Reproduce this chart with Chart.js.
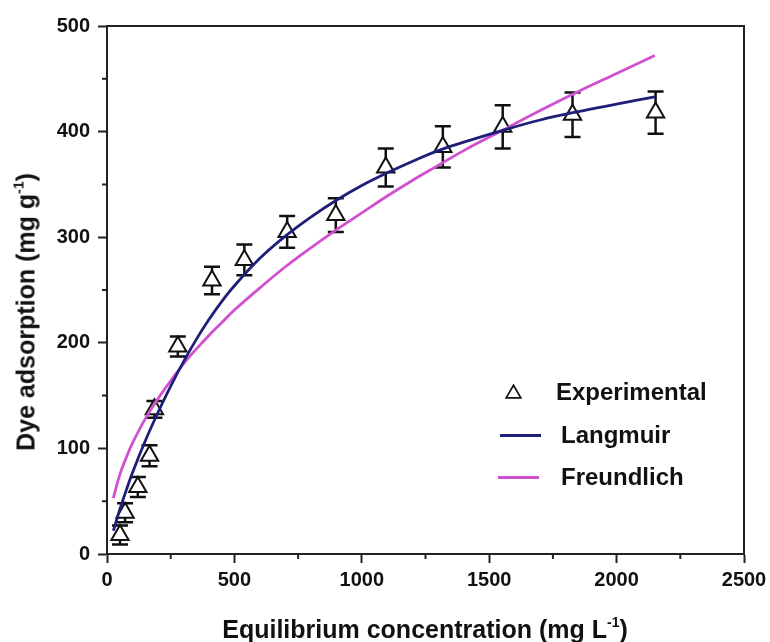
<!DOCTYPE html>
<html>
<head>
<meta charset="utf-8">
<script src="https://cdn.jsdelivr.net/npm/chart.js@4.4.1/dist/chart.umd.min.js"></script>
<style>
  html, body { margin: 0; padding: 0; background: #fff; }
  #wrap { position: relative; width: 770px; height: 642px; overflow: hidden; font-family: 'Liberation Sans', Arial, sans-serif; font-weight: bold; color: #111; }
  canvas { position: absolute; left: 0; top: 0; }
  .t { position: absolute; white-space: nowrap; line-height: 25px; font-size: 25px; }
  .t .sp { font-size: 14px; position: relative; top: -11px; }
  .lg { position: absolute; white-space: nowrap; font-size: 24px; line-height: 24px; }
  .ln { position: absolute; height: 3px; }
</style>
</head>
<body>
<div id="wrap">
  <canvas id="c" width="770" height="642"></canvas>
  <div class="t" id="xt" style="left:425px; top:617px; transform:translateX(-50%);">Equilibrium concentration (mg L<span class="sp">-1</span>)</div>
  <div class="t" id="yt" style="left:28px; top:312px; transform:translate(-50%,-50%) rotate(-90deg);">Dye adsorption (mg g<span class="sp">-1</span>)</div>
  <svg style="position:absolute; left:505px; top:384px;" width="17" height="15"><polygon points="8.5,1.2 15.8,13.8 1.2,13.8" fill="none" stroke="#111" stroke-width="1.7"/></svg>
  <div class="lg" style="left:556px; top:380px;">Experimental</div>
  <div class="ln" style="left:500px; top:434px; width:41px; background:#1f1f7a;"></div>
  <div class="lg" style="left:561px; top:423px;">Langmuir</div>
  <div class="ln" style="left:498px; top:476px; width:41px; background:#d050d0;"></div>
  <div class="lg" style="left:561px; top:465px;">Freundlich</div>
</div>
<script>
// ---- data ----
const conc       = [51, 71, 121, 167, 186, 278, 412, 539, 707, 898, 1094, 1318, 1553, 1827, 2153];
const adsorption = [18, 39, 63.5, 93, 137, 196.5, 259, 278.5, 305, 321, 366, 385.5, 404.5, 416, 418];
const errors     = [9, 9, 9.5, 10, 8, 9.5, 13, 14.5, 15, 16, 18, 19.5, 20.5, 21, 20];

const fitConc    = [25, 50, 75, 100, 150, 200, 250, 300, 350, 400, 450, 500, 600, 700, 800, 900, 1000, 1100, 1200, 1300, 1400, 1550, 1700, 1850, 2000, 2150];
const langmuir   = [22, 42, 60, 77, 107, 134, 159, 182, 203, 222, 239, 254, 280, 301, 319, 335, 349, 361, 372, 382, 390, 401, 411, 419, 426, 433];
const freundlich = [53, 75, 91, 105, 128, 147, 164, 180, 194, 207, 219, 231, 252, 272, 290, 307, 323, 339, 354, 368, 382, 401, 420, 438, 455, 472];

const xTicks = [0, 500, 1000, 1500, 2000, 2500];
const yTicks = [0, 100, 200, 300, 400, 500];
const xMinor = [250, 750, 1250, 1750, 2250];
const yMinor = [50, 150, 250, 350, 450];

const AXIS = '#222';

const errorBars = {
  id: 'errorBars',
  beforeDatasetsDraw(chart) {
    const { ctx, scales: { x, y } } = chart;
    ctx.save();
    ctx.strokeStyle = '#111';
    ctx.lineWidth = 2.5;
    conc.forEach((c, i) => {
      const px = x.getPixelForValue(c);
      const top = y.getPixelForValue(adsorption[i] + errors[i]);
      const bot = y.getPixelForValue(adsorption[i] - errors[i]);
      ctx.beginPath();
      ctx.moveTo(px, top); ctx.lineTo(px, bot);
      ctx.moveTo(px - 8, top); ctx.lineTo(px + 8, top);
      ctx.moveTo(px - 8, bot); ctx.lineTo(px + 8, bot);
      ctx.stroke();
    });
    ctx.restore();
  }
};

const frame = {
  id: 'frame',
  afterDraw(chart) {
    const { ctx, chartArea: a, scales: { x, y } } = chart;
    ctx.save();
    ctx.strokeStyle = AXIS;
    ctx.lineWidth = 2;
    ctx.beginPath();
    ctx.moveTo(a.left, a.top); ctx.lineTo(a.right, a.top); ctx.lineTo(a.right, a.bottom);
    xMinor.forEach(v => { const p = x.getPixelForValue(v); ctx.moveTo(p, a.bottom); ctx.lineTo(p, a.bottom + 5); });
    yMinor.forEach(v => { const p = y.getPixelForValue(v); ctx.moveTo(a.left, p); ctx.lineTo(a.left - 5, p); });
    ctx.stroke();
    ctx.restore();
  }
};

const tickFont = { family: "'Liberation Sans', Arial, sans-serif", size: 20, weight: 'bold' };

new Chart(document.getElementById('c'), {
  type: 'line',
  data: {
    datasets: [
      {
        label: 'Experimental',
        type: 'scatter',
        data: conc.map((c, i) => ({ x: c, y: adsorption[i] })),
        showLine: false,
        pointStyle: 'triangle',
        pointRadius: 10,
        pointBorderWidth: 2,
        borderColor: '#111',
        backgroundColor: '#fff',
        order: 3
      },
      {
        label: 'Langmuir',
        data: fitConc.map((c, i) => ({ x: c, y: langmuir[i] })),
        borderColor: '#1f1f7a',
        borderWidth: 2.8,
        pointRadius: 0,
        tension: 0.4,
        fill: false,
        order: 1
      },
      {
        label: 'Freundlich',
        data: fitConc.map((c, i) => ({ x: c, y: freundlich[i] })),
        borderColor: '#d050d0',
        borderWidth: 2.8,
        pointRadius: 0,
        tension: 0.4,
        fill: false,
        order: 2
      }
    ]
  },
  options: {
    responsive: false,
    animation: false,
    devicePixelRatio: 1,
    layout: { padding: { left: 0, top: 26, right: 26, bottom: 0 } },
    plugins: { legend: { display: false }, tooltip: { enabled: false } },
    scales: {
      x: {
        type: 'linear', min: 0, max: 2500,
        afterBuildTicks(s) { s.ticks = xTicks.map(v => ({ value: v })); },
        afterFit(s) { s.height = 88; s.paddingLeft = 0; s.paddingRight = 0; },
        grid: { drawOnChartArea: false, drawTicks: true, tickLength: 9, tickWidth: 2, tickColor: AXIS },
        border: { display: true, color: AXIS, width: 2 },
        ticks: { font: tickFont, color: '#111', padding: 5, maxRotation: 0, callback: v => String(v) }
      },
      y: {
        type: 'linear', min: 0, max: 500,
        afterBuildTicks(s) { s.ticks = yTicks.map(v => ({ value: v })); },
        afterFit(s) { s.width = 107; s.paddingTop = 0; s.paddingBottom = 0; },
        grid: { drawOnChartArea: false, drawTicks: true, tickLength: 9, tickWidth: 2, tickColor: AXIS },
        border: { display: true, color: AXIS, width: 2 },
        ticks: { font: tickFont, color: '#111', padding: 8, callback: v => String(v) }
      }
    }
  },
  plugins: [errorBars, frame]
});
</script>
</body>
</html>
